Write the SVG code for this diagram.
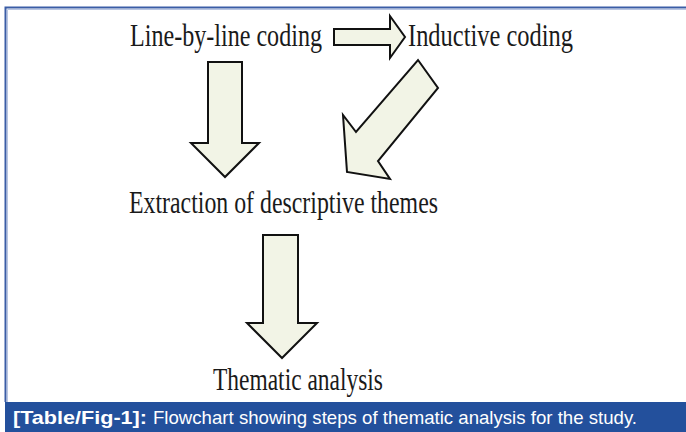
<svg xmlns="http://www.w3.org/2000/svg" width="686" height="432" viewBox="0 0 686 432">
<style>
.lbl{font-family:"Liberation Serif","Times New Roman",serif;font-size:31px;fill:#1a1a1a}
.arr{fill:#f2f4e6;stroke:#111;stroke-width:2;stroke-linejoin:miter}
.cap{font-family:"Liberation Sans",Arial,sans-serif;font-size:19px;fill:#fff}
</style>
<rect x="0" y="0" width="686" height="432" fill="#fff"/>
<g id="frame">
<path d="M5.5,402 V7.5 H686" fill="none" stroke="#3a5da6" stroke-width="2"/>
<path d="M7.5,402 V9.5 H686" fill="none" stroke="#b9c6e2" stroke-width="1"/>
</g>
<g id="connectors">
<polygon class="arr" points="334,29 390,29 390,16 405,37 390,58 390,45 334,45"/>
<polygon class="arr" points="208,62 242,62 242,143 259,143 225,177 191,143 208,143"/>
<polygon class="arr" points="418,60 438,88 378,161 390,179 347,172 343,115 356,132"/>
<polygon class="arr" points="263,235 298,235 298,323 317,323 282,358 247,323 263,323"/>
</g>
<g id="node-line-by-line"><text class="lbl" x="130" y="46" textLength="192" lengthAdjust="spacingAndGlyphs">Line-by-line coding</text></g>
<g id="node-inductive"><text class="lbl" x="408" y="46" textLength="165" lengthAdjust="spacingAndGlyphs">Inductive coding</text></g>
<g id="node-extraction"><text class="lbl" x="129" y="213" textLength="309" lengthAdjust="spacingAndGlyphs">Extraction of descriptive themes</text></g>
<g id="node-thematic"><text class="lbl" x="213" y="390" textLength="170" lengthAdjust="spacingAndGlyphs">Thematic analysis</text></g>
<g id="caption">
<rect x="5" y="402" width="681" height="30" fill="#23509c"/>
<text class="cap" x="13" y="424" font-weight="bold" textLength="134" lengthAdjust="spacingAndGlyphs">[Table/Fig-1]:</text>
<text class="cap" x="153" y="424" textLength="484" lengthAdjust="spacingAndGlyphs">Flowchart showing steps of thematic analysis for the study.</text>
</g>
</svg>
